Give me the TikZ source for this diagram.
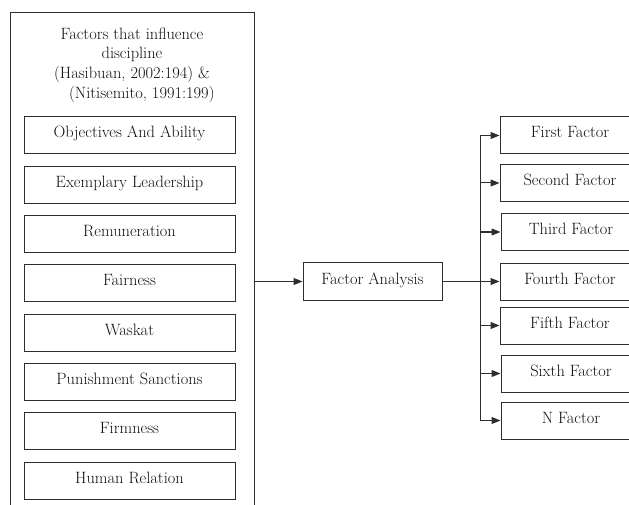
\documentclass[tikz,border=0pt]{standalone}
\usetikzlibrary{arrows.meta}
\definecolor{ln}{HTML}{2E2E2E}
\definecolor{tx}{HTML}{111111}
\begin{document}
\begin{tikzpicture}[x=1pt,y=-1pt,
  font=\rmfamily\fontsize{16.4}{19.7}\selectfont,
  every node/.style={text=tx},
  lbox/.style={draw=ln,line width=1pt,minimum width=211pt,minimum height=37pt,inner sep=0pt,text height=12pt,text depth=7pt},
  rbox/.style={draw=ln,line width=1pt,minimum width=140pt,minimum height=37pt,inner sep=0pt,text height=12pt,text depth=7pt},
  conn/.style={draw=ln,line width=1pt},
  arr/.style={conn,-{Triangle[length=9pt,width=7pt]}}]
\useasboundingbox (0,0) rectangle (629,505);
\clip (0,0) rectangle (629,505);
% outer frame
\draw[conn] (10,510) -- (10,12.5) -- (254,12.5) -- (254,510);
\node[align=center,inner sep=0pt] (header) at (132,65)
  {Factors that influence\\ discipline\hspace*{1.3em}\\ (Hasibuan, 2002:194) \&\\ \hspace*{1.2em}(Nitisemito, 1991:199)};
% left boxes
\node[lbox] (b1) at (129.5,135.5) {Objectives And Ability};
\node[lbox] (b2) at (129.5,184.8) {Exemplary Leadership};
\node[lbox] (b3) at (129.5,234.1) {Remuneration};
\node[lbox] (b4) at (129.5,283.4) {Fairness};
\node[lbox] (b5) at (129.5,332.7) {Waskat};
\node[lbox] (b6) at (129.5,382) {Punishment Sanctions};
\node[lbox] (b7) at (129.5,431.3) {Firmness};
\node[lbox] (b8) at (129.5,480.6) {Human Relation};
% factor analysis
\node[draw=ln,line width=1pt,minimum width=139pt,minimum height=38pt,inner sep=0pt,text height=12pt,text depth=7pt] (fa) at (372.5,281.5) {Factor Analysis};
\coordinate (oe) at (254,281.5);
\draw[arr] (oe) -- (fa.west);
% right boxes
\node[rbox] (f1) at (570,135.5) {First Factor};
\node[rbox] (f2) at (570,183) {Second Factor};
\node[rbox] (f3) at (571,232) {Third Factor};
\node[rbox] (f4) at (570,281.5) {Fourth Factor};
\node[rbox] (f5) at (570,325.5) {Fifth Factor};
\node[rbox] (f6) at (571,373.5) {Sixth Factor};
\node[rbox] (f7) at (571,420.5) {N Factor};
% connectors
\coordinate (sp) at (480,281.5);
\draw[arr] (fa.east) -- (f4.west);
\draw[conn] (sp |- f1.west) -- (sp |- f7.west);
\foreach \f in {f1,f2,f3,f5,f6,f7}{
  \draw[arr] (sp |- \f.west) -- (\f.west);
}
\end{tikzpicture}
\end{document}
